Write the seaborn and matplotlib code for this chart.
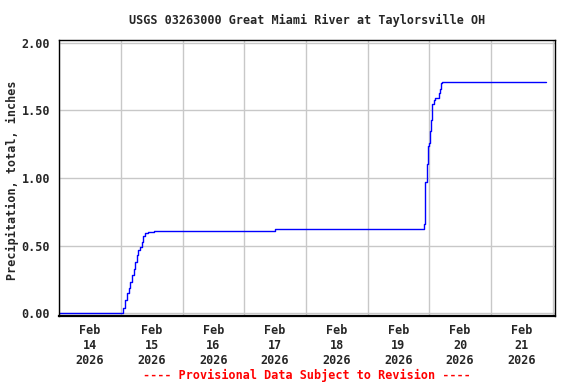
import numpy as np
import pandas as pd
import seaborn as sns
import matplotlib
matplotlib.use('Agg')
import matplotlib.pyplot as plt

# cumulative precipitation readings (inches)
times = ["2026-02-14 00:00", "2026-02-15 00:15", "2026-02-15 01:00", "2026-02-15 01:45",
         "2026-02-15 02:15", "2026-02-15 03:00", "2026-02-15 03:30", "2026-02-15 04:15",
         "2026-02-15 05:00", "2026-02-15 05:30", "2026-02-15 06:15", "2026-02-15 06:45",
         "2026-02-15 07:30", "2026-02-15 08:15", "2026-02-15 08:45", "2026-02-15 09:30",
         "2026-02-15 10:45", "2026-02-15 12:00", "2026-02-15 12:45", "2026-02-17 12:00",
         "2026-02-19 21:30", "2026-02-19 22:00", "2026-02-19 22:15", "2026-02-19 22:30",
         "2026-02-19 23:00", "2026-02-19 23:30", "2026-02-19 23:45", "2026-02-20 00:15",
         "2026-02-20 00:30", "2026-02-20 01:00", "2026-02-20 01:15", "2026-02-20 01:45",
         "2026-02-20 02:15", "2026-02-20 03:30", "2026-02-20 03:45", "2026-02-20 04:15",
         "2026-02-20 04:30", "2026-02-20 05:00", "2026-02-21 21:15"]
precip = [0.00, 0.00, 0.04, 0.10,
          0.15, 0.19, 0.23, 0.28,
          0.33, 0.38, 0.43, 0.47,
          0.49, 0.53, 0.57, 0.59,
          0.60, 0.60, 0.61, 0.62,
          0.62, 0.66, 0.81, 0.97,
          1.10, 1.24, 1.26, 1.35,
          1.43, 1.50, 1.55, 1.58,
          1.59, 1.59, 1.63, 1.66,
          1.70, 1.71, 1.71]

day_labels = ["Feb\n14\n2026", "Feb\n15\n2026", "Feb\n16\n2026", "Feb\n17\n2026",
              "Feb\n18\n2026", "Feb\n19\n2026", "Feb\n20\n2026", "Feb\n21\n2026"]
y_ticks = [0.0, 0.5, 1.0, 1.5, 2.0]

df = pd.DataFrame({"time": pd.to_datetime(times), "precip": precip})

sns.set_style("white")
plt.rcParams['font.family'] = ["DejaVu Sans Mono"]
plt.rcParams['font.weight'] = "bold"

fig = plt.figure(figsize=(5.76, 3.84), dpi=100)
ax = fig.add_axes([58.5 / 576, 68 / 384, 496 / 576, 276 / 384])

sns.lineplot(data=df, x="time", y="precip", ax=ax, color="#0000ff", linewidth=1.0,
             drawstyle="steps-post")

midnights = pd.date_range("2026-02-14", "2026-02-22", freq="D")
noons = pd.date_range("2026-02-14 12:00", periods=8, freq="D")
ax.set_xticks(midnights)
ax.set_xticks(noons, minor=True)
ax.set_xticklabels([])
ax.set_xticklabels(day_labels, minor=True, fontsize=8.5, fontweight="bold")
ax.tick_params(axis="x", which="both", length=0, pad=6)
ax.set_xlim(pd.Timestamp("2026-02-13 23:45"), pd.Timestamp("2026-02-22 00:45"))

ax.set_ylim(-0.02, 2.02)
ax.set_yticks(y_ticks)
ax.set_yticklabels(["%.2f" % v for v in y_ticks], fontsize=8.5, fontweight="bold")
ax.tick_params(axis="y", length=0, pad=6)

ax.grid(True, which="major", color="#c8c8c8", linewidth=1.0)
for s in ax.spines.values():
    s.set_color("black")
    s.set_linewidth(1.0)
ax.spines["bottom"].set_linewidth(1.6)

ax.set_xlabel("")
ax.set_ylabel("")
fig.text(12 / 576, 1 - 180 / 384, "Precipitation, total, inches", rotation=90,
         ha="center", va="center", fontsize=8.5, fontweight="bold")

fig.text(307 / 576, 1 - 20 / 384, "USGS 03263000 Great Miami River at Taylorsville OH",
         ha="center", va="center", fontsize=8.5, fontweight="bold")
fig.text(307 / 576, 1 - 375 / 384, "---- Provisional Data Subject to Revision ----",
         ha="center", va="center", fontsize=8.5, fontweight="bold", color="red")

fig.savefig("out.png", dpi=100)
